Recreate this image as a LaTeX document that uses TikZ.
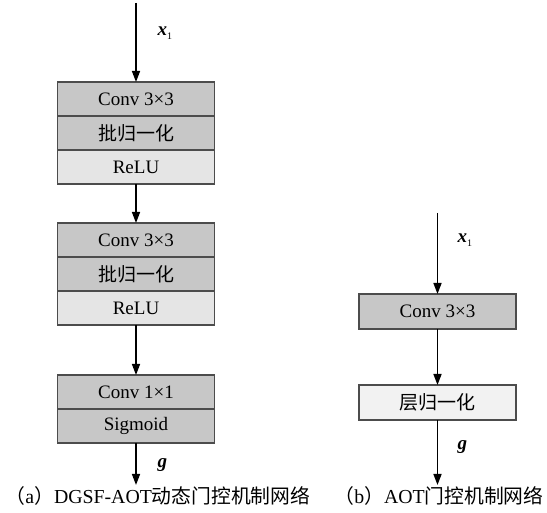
\documentclass[tikz,border=0pt]{standalone}
\usepackage{fontspec}
\setmainfont{Liberation Serif}
\newfontfamily\cjk{Noto Sans CJK SC}
\usetikzlibrary{arrows.meta,positioning}

\begin{document}
\begin{tikzpicture}[
    x=1pt, y=-1pt, >={Triangle[length=11pt,width=8pt]},
    font=\fontsize{19}{22}\selectfont,
    layer_dark/.style={rectangle, draw=black!70, fill=black!22, line width=1.2pt, minimum width=157pt, minimum height=34pt, inner sep=0pt, outer sep=0pt},
    layer_light/.style={layer_dark, fill=black!10},
    layer_pale/.style={layer_dark, fill=black!5, minimum height=35pt},
    flow_arrow/.style={->, line width=1.5pt},
    var_lbl/.style={font=\fontsize{19}{22}\selectfont\bfseries\itshape, anchor=west},
    cap_lbl/.style={font=\fontsize{19.8}{22}\selectfont}
]
    \useasboundingbox (0,0) rectangle (547,513);

    % (a) DGSF-AOT branch
    \coordinate (in_a) at (136,3);
    \node[layer_dark] (conv_a1) at (136,99) {Conv 3×3};
    \node[layer_dark, below=0pt of conv_a1] (bn_a1) {{\cjk 批归一化}};
    \node[layer_light, below=0pt of bn_a1] (relu_a1) {ReLU};

    \node[layer_dark] (conv_a2) at (136,240) {Conv 3×3};
    \node[layer_dark, below=0pt of conv_a2] (bn_a2) {{\cjk 批归一化}};
    \node[layer_light, below=0pt of bn_a2] (relu_a2) {ReLU};

    \node[layer_dark] (conv_a3) at (136,392) {Conv 1×1};
    \node[layer_dark, below=0pt of conv_a3] (sig_a3) {Sigmoid};
    \coordinate (out_a) at (136,485);

    % (b) AOT branch
    \coordinate (in_b) at (437.5,213);
    \node[layer_dark, minimum height=35pt] (conv_b) at (437.5,311.5) {Conv 3×3};
    \node[layer_pale] (ln_b) at (437.5,402.5) {{\cjk 层归一化}};
    \coordinate (out_b) at (437.5,485);

    % Data flow
    \draw[flow_arrow] (in_a) -- (conv_a1);
    \draw[flow_arrow] (relu_a1) -- (conv_a2);
    \draw[flow_arrow] (relu_a2) -- (conv_a3);
    \draw[flow_arrow] (sig_a3) -- (out_a);
    \draw[flow_arrow] (in_b) -- (conv_b);
    \draw[flow_arrow] (conv_b) -- (ln_b);
    \draw[flow_arrow] (ln_b) -- (out_b);

    % Variable labels
    \node[var_lbl] (x_a) at (154,33) {x\raisebox{-0.5ex}{\fontsize{10}{10}\selectfont\mdseries\upshape 1}};
    \node[var_lbl] (g_a) at (154,465) {g};
    \node[var_lbl] (x_b) at (454,240) {x\raisebox{-0.5ex}{\fontsize{10}{10}\selectfont\mdseries\upshape 1}};
    \node[var_lbl] (g_b) at (454,447) {g};

    % Captions
    \node[cap_lbl] (cap_a) at (158,496) {{\cjk （}a{\cjk ）}DGSF-AOT{\cjk 动态门控机制网络}};
    \node[cap_lbl] (cap_b) at (439,496) {{\cjk （}b{\cjk ）}AOT{\cjk 门控机制网络}};
\end{tikzpicture}
\end{document}
